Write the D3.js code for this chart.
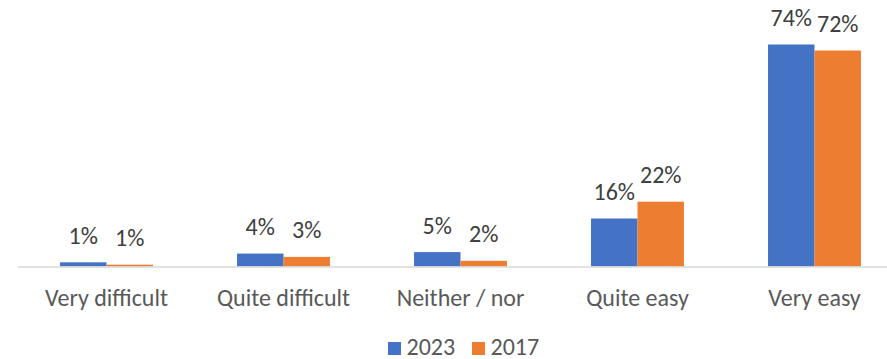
<!DOCTYPE html>
<html>
<head>
<meta charset="utf-8">
<script src="https://cdn.jsdelivr.net/npm/d3@7"></script>
<style>
  html, body { margin: 0; padding: 0; background: #ffffff; }
  svg { display: block; }
</style>
</head>
<body>
<svg id="chart" width="887" height="359"></svg>
<script>
const categories = ["Very difficult", "Quite difficult", "Neither / nor", "Quite easy", "Very easy"];
const seriesNames = ["2023", "2017"];
const values2023 = [1.4, 4.3, 4.8, 16, 74];
const values2017 = [0.6, 3.2, 1.9, 21.6, 72];
const colors = ["#4472C4", "#ED7D31"];

const svg = d3.select("#chart");
const FONT = "Carlito, Calibri, Lato, 'Liberation Sans', sans-serif";

// pick a font size whose width matches the reference's Calibri 24px
const probe = svg.append("text").attr("font-family", FONT).attr("font-size", 24).text("Very difficult");
const w = probe.node().getComputedTextLength();
probe.remove();
const fs = Math.min(24, 24 * 124 / w);

const x0 = d3.scaleBand().domain(categories).range([18, 903]).paddingInner(0.475).paddingOuter(0.2375);
const x1 = d3.scaleBand().domain(seriesNames).range([0, x0.bandwidth()]);
const y = d3.scaleLinear().domain([0, 80]).range([266.5, 26.5]);

const data = categories.map((c, i) => ({ cat: c, vals: [values2023[i], values2017[i]] }));
const fmt = v => d3.format(".0f")(v) + "%";

const groups = svg.append("g").selectAll("g").data(data).join("g")
  .attr("transform", d => `translate(${x0(d.cat)},0)`);

groups.selectAll("rect").data(d => d.vals.map((v, j) => ({ v, s: seriesNames[j], j })))
  .join("rect")
  .attr("x", d => x1(d.s))
  .attr("width", x1.bandwidth())
  .attr("y", d => y(d.v))
  .attr("height", d => y(0) - y(d.v))
  .attr("fill", d => colors[d.j]);

groups.selectAll("text.lbl").data(d => d.vals.map((v, j) => ({ v, s: seriesNames[j], j })))
  .join("text").attr("class", "lbl")
  .attr("x", d => x1(d.s) + x1.bandwidth() / 2)
  .attr("y", d => y(d.v) - 18.5)
  .attr("text-anchor", "middle")
  .attr("font-family", FONT).attr("font-size", fs)
  .attr("fill", "#404040")
  .text(d => fmt(d.v));

// axis baseline
svg.append("line").attr("x1", 18).attr("x2", 887).attr("y1", y(0) + 0.5).attr("y2", y(0) + 0.5)
  .attr("stroke", "#D9D9D9").attr("stroke-width", 1.5);

// category labels via axis
const xAxis = d3.axisBottom(x0).tickSize(0).tickPadding(0);
const ax = svg.append("g").attr("transform", `translate(0,${y(0)})`).call(xAxis);
ax.select(".domain").remove();
ax.selectAll("text").attr("dy", null).attr("y", 306 - y(0))
  .attr("font-family", FONT).attr("font-size", fs).attr("fill", "#595959");

// legend
const legendX = [388, 472];
const leg = svg.append("g");
seriesNames.forEach((s, j) => {
  leg.append("rect").attr("x", legendX[j]).attr("y", 342).attr("width", 13).attr("height", 13).attr("fill", colors[j]);
  leg.append("text").attr("x", legendX[j] + 18.5).attr("y", 354.5)
    .attr("font-family", FONT).attr("font-size", fs).attr("fill", "#595959").text(s);
});
</script>
</body>
</html>
